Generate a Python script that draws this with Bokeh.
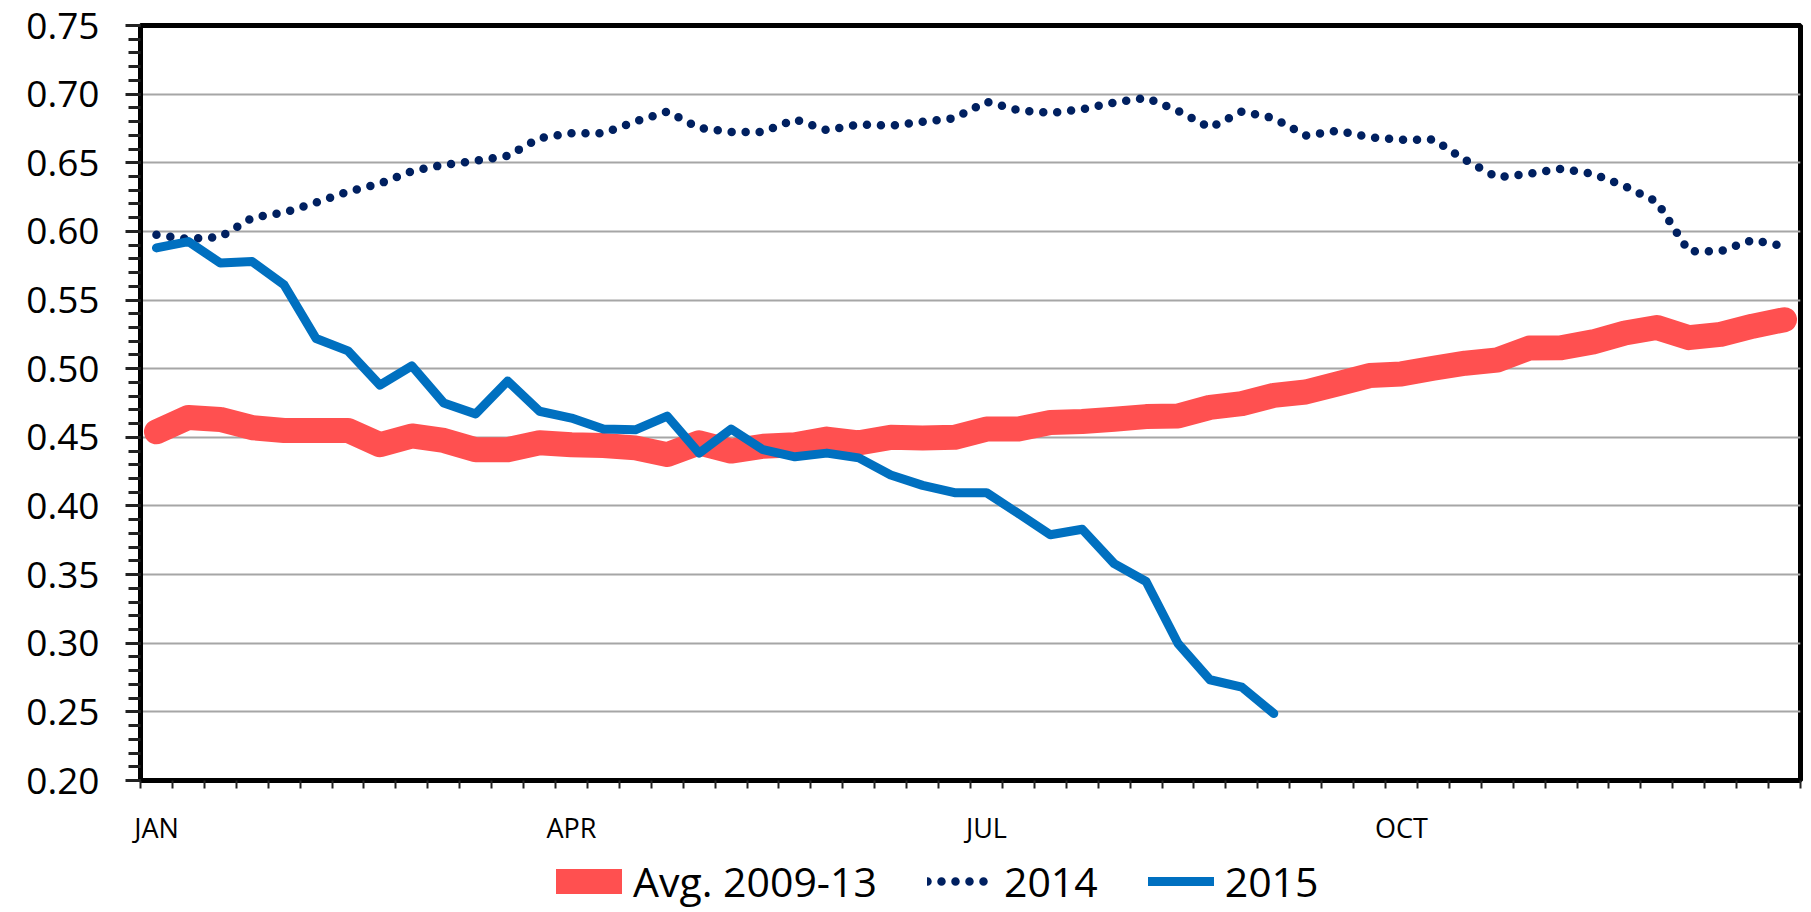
from bokeh.plotting import figure
from bokeh.layouts import column
from bokeh.models import (ColumnDataSource, Range1d, FixedTicker, Legend, LegendItem,
                          PrintfTickFormatter)
from bokeh.embed import file_html
from bokeh.resources import INLINE

# ---- data (weekly, 52 weeks) ----
month_ticks = [0, 13, 26, 39]
month_labels = ["JAN", "APR", "JUL", "OCT"]
y_ticks = [0.20, 0.25, 0.30, 0.35, 0.40, 0.45, 0.50, 0.55, 0.60, 0.65, 0.70, 0.75]
series_names = ["Avg. 2009-13", "2014", "2015"]

avg_2009_13 = [0.454, 0.4645, 0.463, 0.457, 0.455, 0.455, 0.455, 0.4446, 0.451, 0.4477,
               0.441, 0.441, 0.446, 0.4446, 0.444, 0.4423, 0.4374, 0.446, 0.440, 0.4435,
               0.4446, 0.4487, 0.446, 0.450, 0.4495, 0.450, 0.456, 0.456, 0.4608, 0.4615,
               0.4632, 0.4651, 0.4655, 0.4718, 0.4746, 0.4806, 0.483, 0.489, 0.495, 0.4962,
               0.5003, 0.504, 0.5063, 0.515, 0.5152, 0.5195, 0.526, 0.530, 0.5226, 0.525,
               0.531, 0.5357]
y2014 = [0.5975, 0.5945, 0.596, 0.6099, 0.6137, 0.621, 0.629, 0.6348, 0.6439, 0.6485,
         0.6514, 0.655, 0.668, 0.6715, 0.6715, 0.680, 0.6873, 0.6753, 0.6725, 0.6725,
         0.6816, 0.6737, 0.678, 0.677, 0.6798, 0.6825, 0.6945, 0.6883, 0.6863, 0.689,
         0.6938, 0.6974, 0.6878, 0.6755, 0.6873, 0.6825, 0.6698, 0.6734, 0.6686, 0.6667,
         0.6669, 0.652, 0.6394, 0.642, 0.6456, 0.642, 0.6329, 0.6216, 0.5856, 0.5856,
         0.5938, 0.5892]
y2015 = [0.588, 0.5926, 0.577, 0.578, 0.561, 0.522, 0.513, 0.488, 0.502, 0.475,
         0.467, 0.491, 0.469, 0.464, 0.456, 0.4555, 0.4654, 0.4385, 0.456, 0.441,
         0.4358, 0.4385, 0.435, 0.4225, 0.415, 0.4097, 0.4097, 0.3945, 0.379, 0.383,
         0.358, 0.345, 0.2998, 0.2734, 0.268, 0.2488]

n_weeks = len(avg_2009_13)
weeks = list(range(n_weeks))

FONT = "Open Sans"
STYLES = [dict(line_color="#ff5050", line_width=25, line_cap="round", line_join="round"),
          dict(line_color="#002060", line_width=8.5, line_cap="round", line_join="round",
               line_dash="0 14"),
          dict(line_color="#0070c0", line_width=9, line_cap="round", line_join="round")]

src_avg = ColumnDataSource(dict(x=weeks, y=avg_2009_13))
src_14 = ColumnDataSource(dict(x=weeks, y=y2014))
src_15 = ColumnDataSource(dict(x=weeks[:len(y2015)], y=y2015))
sources = [src_avg, src_14, src_15]

# ---------------- main chart ----------------
p = figure(width=1811, height=848, output_backend="svg", toolbar_location=None,
           x_range=Range1d(-0.5, n_weeks - 0.5), y_range=Range1d(0.20, 0.75),
           min_border_left=140, min_border_right=11, min_border_top=25, min_border_bottom=66)
p.background_fill_color = "white"
p.border_fill_color = "white"
p.outline_line_color = "black"
p.outline_line_width = 5

p.xgrid.grid_line_color = None
p.ygrid.grid_line_color = "#a6a6a6"
p.ygrid.grid_line_width = 2

p.yaxis.ticker = FixedTicker(ticks=y_ticks,
                             minor_ticks=[round(0.20 + 0.01 * i, 2) for i in range(56)])
p.yaxis.formatter = PrintfTickFormatter(format="%.2f")
p.yaxis.axis_line_width = 5
p.yaxis.axis_line_color = "black"
p.yaxis.major_tick_out = 15
p.yaxis.major_tick_in = 0
p.yaxis.minor_tick_out = 12
p.yaxis.minor_tick_in = 0
p.yaxis.major_tick_line_width = 3
p.yaxis.minor_tick_line_width = 3
p.yaxis.major_tick_line_color = "#222222"
p.yaxis.minor_tick_line_color = "#222222"
p.yaxis.major_label_text_font = FONT
p.yaxis.major_label_text_font_size = "37px"
p.yaxis.major_label_text_color = "black"
p.yaxis.major_label_standoff = 26

p.xaxis.ticker = FixedTicker(ticks=month_ticks,
                             minor_ticks=[i - 0.5 for i in range(n_weeks + 1)])
p.xaxis.major_label_overrides = {t: l for t, l in zip(month_ticks, month_labels)}
p.xaxis.axis_line_width = 5
p.xaxis.axis_line_color = "black"
p.xaxis.major_tick_out = 0
p.xaxis.major_tick_in = 0
p.xaxis.minor_tick_out = 8
p.xaxis.minor_tick_in = 0
p.xaxis.minor_tick_line_width = 2
p.xaxis.minor_tick_line_color = "#222222"
p.xaxis.major_label_text_font = FONT
p.xaxis.major_label_text_font_size = "27px"
p.xaxis.major_label_text_color = "black"
p.xaxis.major_label_standoff = 20

for src, st in zip(sources, STYLES):
    p.line("x", "y", source=src, **st)

# ---------------- legend strip (same series, drawn out of view) ----------------
lp = figure(width=1811, height=64, output_backend="svg", toolbar_location=None,
            x_axis_type=None, y_axis_type=None,
            x_range=Range1d(-0.5, n_weeks - 0.5), y_range=Range1d(10, 11),
            min_border_left=0, min_border_right=0, min_border_top=0, min_border_bottom=0)
lp.outline_line_color = None
lp.grid.grid_line_color = None
lp.background_fill_color = "white"
lp.border_fill_color = "white"

items = []
for name, src, st in zip(series_names, sources, STYLES):
    r = lp.line("x", "y", source=src, **st)
    items.append(LegendItem(label=name, renderers=[r]))

legend = Legend(items=items, location=(416, 3), orientation="horizontal",
                glyph_width=66, glyph_height=40, label_standoff=11, spacing=50,
                padding=0, margin=0, border_line_color=None, background_fill_alpha=0,
                label_text_font=FONT, label_text_font_size="41px", label_text_color="black")
lp.add_layout(legend, "center")

open("out.html", "w").write(file_html(column(p, lp, spacing=0), INLINE))
